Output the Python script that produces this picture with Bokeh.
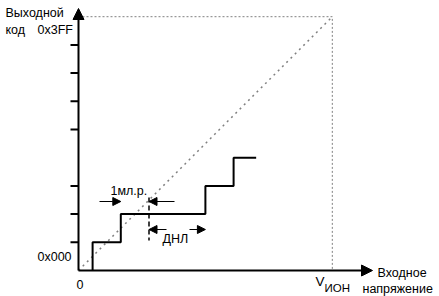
from bokeh.plotting import figure
from bokeh.models import Range1d, Arrow, NormalHead
from bokeh.core.properties import value
from bokeh.embed import file_html
from bokeh.resources import INLINE

# ---- data (in LSB units) ----
full_scale = 9.0                       # 0x3FF level / V_ION
step_x = [0.5, 1.5, 4.5, 5.5, 6.3]     # transition points of the real ADC
step_code = [0, 1, 2, 3, 4]            # output codes
y_ticks = [1, 2, 3, 5, 6, 7, 8]
ideal_x = [0.0, 9.0]
ideal_y = [0.0, 9.0]

U = 28.2  # px per LSB
W, H = 439, 296
OX, OY = 78, 270  # origin pixel

def px(v):
    return v / U

p = figure(width=W, height=H, output_backend="svg", toolbar_location=None,
           x_range=Range1d(-OX / U, (W - OX) / U), y_range=Range1d(-(H - OY) / U, OY / U),
           min_border=0, outline_line_color=None)
p.axis.visible = False
p.grid.visible = False
p.background_fill_color = "white"

FONT = value("Liberation Sans")
grey = "#808080"

# dotted box to full scale
p.line([0, full_scale, full_scale], [full_scale, full_scale, 0], line_color=grey,
       line_dash="2 2", line_width=1)
# ideal transfer line
p.line(ideal_x, ideal_y, line_color=grey, line_dash="2 4", line_width=1.5)

# staircase
sx, sy = [step_x[0]], [0]
for i in range(len(step_x) - 1):
    sx += [step_x[i], step_x[i + 1]]
    sy += [step_code[i + 1], step_code[i + 1]]
p.line(sx, sy, line_color="black", line_width=2)

# axes with arrows
p.add_layout(Arrow(end=NormalHead(size=11, fill_color="black", line_color="black"),
                   x_start=0, y_start=0, x_end=0, y_end=px(OY - 8),
                   line_width=2, line_color="black"))
p.add_layout(Arrow(end=NormalHead(size=11, fill_color="black", line_color="black"),
                   x_start=0, y_start=0, x_end=px(372 - OX), y_end=0,
                   line_width=2, line_color="black"))
# y ticks
p.segment(x0=[px(-8)] * len(y_ticks), y0=y_ticks, x1=[0] * len(y_ticks), y1=y_ticks,
          line_color="black", line_width=2)

# 1 LSB annotation
xa = step_x[1]
xb = step_x[1] + 1
p.line([xb, xb], [px(270 - 197), px(270 - 240)], line_color="black", line_dash="5 3", line_width=1.5)
head = lambda: NormalHead(size=8, fill_color="black", line_color="black")
yl = px(270 - 201)
p.add_layout(Arrow(end=head(), x_start=px(99 - OX), y_start=yl, x_end=xa, y_end=yl, line_width=1.2))
p.add_layout(Arrow(end=head(), x_start=px(174 - OX), y_start=yl, x_end=xb, y_end=yl, line_width=1.2))
yd = px(270 - 229)
p.add_layout(Arrow(end=head(), x_start=px(166 - OX), y_start=yd, x_end=xb, y_end=yd, line_width=1.2))
p.add_layout(Arrow(end=head(), x_start=px(189 - OX), y_start=yd, x_end=step_x[2], y_end=yd, line_width=1.2))

def txt(x, y, s, size="12.5px", align="left"):
    p.text(x=[px(x - OX)], y=[px(OY - y)], text=[s], text_font=FONT, text_font_size=size,
           text_align=align, text_baseline="middle", text_color="black")

txt(5, 12, "Выходной")
txt(5, 29, "код")
txt(37, 29, "0x3FF")
txt(37, 256, "0x000")
txt(76, 284, "0")
txt(110, 190, "1мл.р.")
txt(162, 238, "ДНЛ")
txt(315, 281, "V", size="13.5px")
txt(324, 287, "ИОН", size="11.5px")
txt(377, 272, "Входное")
txt(362, 288, "напряжение")

open("out.html", "w").write(file_html(p, INLINE))
